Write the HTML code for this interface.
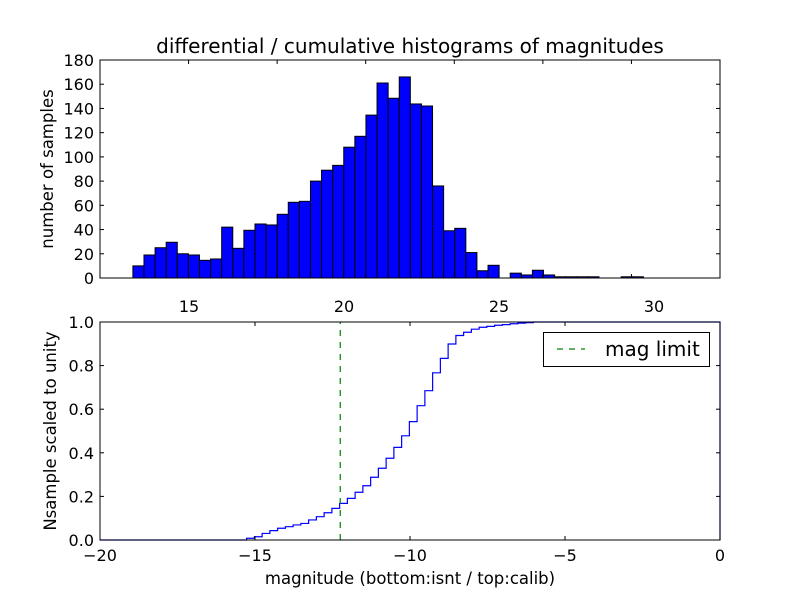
<!DOCTYPE html>
<html><head><meta charset="utf-8"><style>
body{margin:0;background:#fff;}
svg text{font-family:"DejaVu Sans","Liberation Sans",sans-serif;fill:#000;}
</style></head><body>
<svg id="fig" width="800" height="600" xmlns="http://www.w3.org/2000/svg">
<rect width="800" height="600" fill="#fff"/>
<text x="410" y="53" font-size="20" text-anchor="middle">differential / cumulative histograms of magnitudes</text>
<g id="topAx"></g>
<g id="botAx"></g>
</svg>
<script>
// top histogram data
const binStart = 13.19;
const binWidth = 0.358;
const counts = [10,19,25,29.5,20,19,14.6,15.7,42,24.5,39.4,44.6,43.8,52.6,62.5,63.3,80,89,93,108,117,134.5,161,148.4,166,143.7,142,76,39,41,21,6,10.5,0,4,2.5,6.4,2.5,1,1,1,1,0,0,1,1];
const topXTicks = [15,20,25,30];
const topYTicks = [0,20,40,60,80,100,120,140,160,180];
// bottom cumulative data
const cumStart = -15.27;
const cumStep = 0.25;
const cumValues = [0.008,0.015,0.03,0.043,0.054,0.061,0.069,0.076,0.092,0.107,0.125,0.145,0.168,0.191,0.219,0.249,0.288,0.329,0.375,0.425,0.478,0.543,0.616,0.685,0.767,0.833,0.899,0.938,0.953,0.967,0.976,0.98,0.985,0.988,0.992,0.995,0.997,1.0];
const magLimit = -12.25;
const botXTicks = [-20,-15,-10,-5,0];
const botYTicks = [0,0.2,0.4,0.6,0.8,1.0];

const NS="http://www.w3.org/2000/svg";
function mk(p,tag,at){const e=document.createElementNS(NS,tag);for(const k in at)e.setAttribute(k,at[k]);p.appendChild(e);return e;}
const L=100,R=720,FS=16;
const tx=v=>189+(v-15)*31, ty=v=>278-v*(218/180);
const topG=document.getElementById('topAx');
counts.forEach((c,i)=>{
 const x0=tx(binStart+i*binWidth),x1=tx(binStart+(i+1)*binWidth);
 const r=mk(topG,'rect',{x:x0,y:ty(c),width:x1-x0,height:ty(0)-ty(c),fill:'#0000ff',stroke:'#000','stroke-width':1});
 
 
});
const tf=mk(topG,'rect',{x:L,y:60,width:620,height:218,fill:'none',stroke:'#000','stroke-width':1});


for(let k=1;k<7;k++){const x=L+k*620/7;mk(topG,'line',{x1:x,x2:x,y1:60,y2:64,stroke:'#000'});mk(topG,'line',{x1:x,x2:x,y1:278,y2:274,stroke:'#000'});}
topXTicks.forEach(v=>{const t=mk(topG,'text',{x:tx(v),y:312,'font-size':FS,'text-anchor':'middle'});t.textContent=v;
 
 });
topYTicks.forEach(v=>{const y=ty(v);mk(topG,'line',{x1:L,x2:L+4,y1:y,y2:y,stroke:'#000'});mk(topG,'line',{x1:R,x2:R-4,y1:y,y2:y,stroke:'#000'});
 const t=mk(topG,'text',{x:94,y:y+6,'font-size':FS,'text-anchor':'end'});t.textContent=v;
 
 });
const yl=mk(topG,'text',{x:53,y:169,'font-size':16.5,'text-anchor':'middle',transform:'rotate(-90 53 169)'});yl.textContent='number of samples';



const bx=v=>L+(v+20)*31, by=v=>540-v*218;
const botG=document.getElementById('botAx');
let d='M'+L+','+by(0)+' L'+bx(cumStart)+','+by(0);
cumValues.forEach((c,i)=>{const x0=bx(cumStart+i*cumStep),x1=bx(cumStart+(i+1)*cumStep);d+=' L'+x0+','+by(c)+' L'+x1+','+by(c);});
d+=' L'+bx(0)+','+by(1)+' L'+bx(0)+','+by(0);
const ln=mk(botG,'path',{d:d,fill:'none',stroke:'#0000ff','stroke-width':1.2});


const ml=mk(botG,'line',{x1:bx(magLimit),x2:bx(magLimit),y1:by(0),y2:by(1),stroke:'#008000','stroke-width':1.2,'stroke-dasharray':'6,6'});


const bf=mk(botG,'rect',{x:L,y:322,width:620,height:218,fill:'none',stroke:'#000','stroke-width':1});


botXTicks.forEach(v=>{const x=bx(v);mk(botG,'line',{x1:x,x2:x,y1:540,y2:536,stroke:'#000'});mk(botG,'line',{x1:x,x2:x,y1:322,y2:326,stroke:'#000'});
 const t=mk(botG,'text',{x:x,y:561,'font-size':FS,'text-anchor':'middle'});t.textContent=v===0?'0':'\u2212'+Math.abs(v);
 
 });
botYTicks.forEach(v=>{const y=by(v);mk(botG,'line',{x1:L,x2:L+4,y1:y,y2:y,stroke:'#000'});mk(botG,'line',{x1:R,x2:R-4,y1:y,y2:y,stroke:'#000'});
 const t=mk(botG,'text',{x:94,y:y+6,'font-size':FS,'text-anchor':'end'});t.textContent=v.toFixed(1);
 
 });
const yl2=mk(botG,'text',{x:56,y:431,'font-size':16.5,'text-anchor':'middle',transform:'rotate(-90 56 431)'});yl2.textContent='Nsample scaled to unity';


const xl=mk(botG,'text',{x:410,y:584,'font-size':16.5,'text-anchor':'middle'});xl.textContent='magnitude (bottom:isnt / top:calib)';


const lg=mk(botG,'g',{});


mk(lg,'rect',{x:543.5,y:332.5,width:166,height:34,fill:'#fff',stroke:'#000'});
mk(lg,'line',{x1:557,x2:585,y1:349,y2:349,stroke:'#008000','stroke-width':1.2,'stroke-dasharray':'6,6'});
const lt=mk(lg,'text',{x:605,y:356,'font-size':20});lt.textContent='mag limit';


</script>
</body></html>
